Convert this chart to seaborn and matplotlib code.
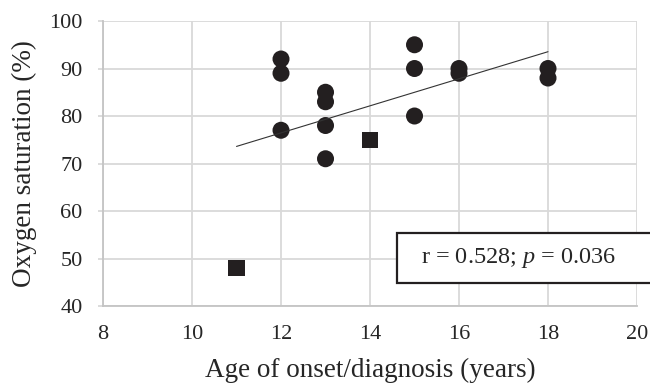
import pandas as pd
import matplotlib.pyplot as plt
from matplotlib.patches import Rectangle
import seaborn as sns

# data
circle_age = [12, 12, 12, 13, 13, 13, 13, 15, 15, 15, 16, 16, 18, 18]
circle_sat = [92, 89, 77, 85, 83, 78, 71, 95, 90, 80, 90, 89, 90, 88]
square_age = [11, 14]
square_sat = [48, 75]
x_ticks = [8, 10, 12, 14, 16, 18, 20]
y_ticks = [40, 50, 60, 70, 80, 90, 100]

df = pd.DataFrame({
    "age": circle_age + square_age,
    "sat": circle_sat + square_sat,
    "group": ["circle"] * len(circle_age) + ["square"] * len(square_age),
})

sns.set_style("white")
plt.rcParams["font.family"] = ["Liberation Serif", "DejaVu Serif"]
plt.rcParams["mathtext.fontset"] = "custom"
plt.rcParams["mathtext.rm"] = "Liberation Serif"
plt.rcParams["mathtext.it"] = "Liberation Serif:italic"

fig = plt.figure(figsize=(6.5, 3.87), dpi=100)
ax = fig.add_axes([0.1585, 0.2093, 0.8215, 0.7364])

ink = "#231f20"
# trend line is the least-squares fit over all points
sns.regplot(data=df, x="age", y="sat", scatter=False, ci=None, truncate=True,
            line_kws={"color": "#333333", "linewidth": 0.8}, ax=ax)
sns.scatterplot(data=df, x="age", y="sat", style="group",
                markers={"circle": "o", "square": "s"},
                size="group", sizes={"circle": 150, "square": 140},
                color=ink, edgecolor=ink, linewidth=0, legend=False, ax=ax)

ax.set_xlim(8, 20)
ax.set_ylim(40, 100)
ax.set_xticks(x_ticks)
ax.set_yticks(y_ticks)
ax.grid(True, color="#d9d9d9", linewidth=1.3)
ax.set_axisbelow(True)
for side in ["top", "right"]:
    ax.spines[side].set_visible(False)
for side in ["left", "bottom"]:
    ax.spines[side].set_color("#c4c4c4")
    ax.spines[side].set_linewidth(1.3)
ax.tick_params(axis="y", length=3.6, width=1.3, color="#d9d9d9", labelsize=16, pad=11, left=True)
ax.tick_params(axis="x", length=0, labelsize=16, pad=14)
ax.set_xlabel("Age of onset/diagnosis (years)", fontsize=19.5, labelpad=10)
ax.set_ylabel("Oxygen saturation (%)", fontsize=19.5, labelpad=9)

# stats box, runs off the right edge of the figure
fig.add_artist(Rectangle((397 / 650, 1 - 283 / 387), 0.5, 50 / 387,
                         transform=fig.transFigure, facecolor="white",
                         edgecolor=ink, linewidth=1.6, zorder=5))
fig.text(518 / 650, 1 - 258 / 387, "r = 0.528; $\\it{p}$ = 0.036", fontsize=17.5,
         ha="center", va="center", zorder=6)

fig.savefig("out.png", dpi=100)
